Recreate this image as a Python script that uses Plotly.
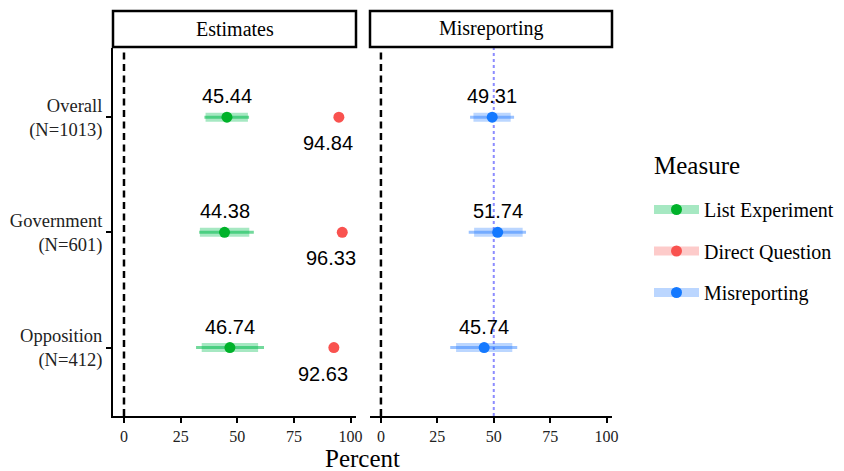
import plotly.graph_objects as go

# ---------------- data ----------------
categories = ["Overall<br>(N=1013)", "Government<br>(N=601)", "Opposition<br>(N=412)"]

list_est = [45.44, 44.38, 46.74]
list_lo90 = [36.0, 33.5, 34.3]
list_hi90 = [54.7, 55.3, 59.2]
list_lo95 = [35.5, 33.2, 31.8]
list_hi95 = [55.2, 57.3, 61.8]

direct_est = [94.84, 96.33, 92.63]

mis_est = [49.31, 51.74, 45.74]
mis_lo90 = [41.0, 41.3, 33.3]
mis_hi90 = [57.5, 62.8, 58.2]
mis_lo95 = [39.5, 38.9, 30.7]
mis_hi95 = [59.0, 64.3, 60.4]

x_ticks = [0, 25, 50, 75, 100]
measures = ["List Experiment", "Direct Question", "Misreporting"]
panels = ["Estimates", "Misreporting"]

# ---------------- style ----------------
GREEN = "#00B22A"
RED = "#F9524F"
BLUE = "#1479FF"
band_col = {"List Experiment": "rgba(0,190,80,0.35)", "Direct Question": "rgba(249,82,79,0.30)",
            "Misreporting": "rgba(30,120,255,0.30)"}
thin_col = {"List Experiment": "rgba(0,185,75,0.55)", "Direct Question": "rgba(249,82,79,0.5)",
            "Misreporting": "rgba(30,120,255,0.45)"}
pt_col = {"List Experiment": GREEN, "Direct Question": RED, "Misreporting": BLUE}
SERIF = "Liberation Serif"
SANS = "Liberation Sans"

fig = go.Figure()


def segs(lo, hi):
    xs, ys = [], []
    for c, a, b in zip(categories, lo, hi):
        xs += [a, b, None]
        ys += [c, c, None]
    return xs, ys


def add_ci(lo95, hi95, lo90, hi90, est, name, xa, ya):
    x, y = segs(lo95, hi95)
    fig.add_trace(go.Scatter(x=x, y=y, mode="lines", line=dict(color=thin_col[name], width=3),
                             showlegend=False, hoverinfo="skip", xaxis=xa, yaxis=ya))
    x, y = segs(lo90, hi90)
    fig.add_trace(go.Scatter(x=x, y=y, mode="lines", line=dict(color=band_col[name], width=9),
                             showlegend=False, hoverinfo="skip", xaxis=xa, yaxis=ya))
    fig.add_trace(go.Scatter(x=est, y=categories, mode="markers",
                             marker=dict(color=pt_col[name], size=11),
                             showlegend=False, xaxis=xa, yaxis=ya))


add_ci(list_lo95, list_hi95, list_lo90, list_hi90, list_est, "List Experiment", "x", "y")
fig.add_trace(go.Scatter(x=direct_est, y=categories, mode="markers",
                         marker=dict(color=RED, size=11), showlegend=False, xaxis="x", yaxis="y"))
add_ci(mis_lo95, mis_hi95, mis_lo90, mis_hi90, mis_est, "Misreporting", "x2", "y2")

# legend-only entries
for i, m in enumerate(measures):
    fig.add_trace(go.Scatter(x=[None], y=[None], mode="lines+markers", name=m,
                             line=dict(color=band_col[m], width=9),
                             marker=dict(color=pt_col[m], size=11),
                             legendgroup=m, xaxis="x", yaxis="y"))

# value labels
annots = []
for c, v in zip(categories, list_est):
    annots.append(dict(x=v, y=c, xref="x", yref="y", text=f"{v:.2f}", showarrow=False,
                       xanchor="center", yanchor="middle",
                       yshift=21, font=dict(family=SANS, size=20, color="black")))
for c, v in zip(categories, direct_est):
    annots.append(dict(x=v, y=c, xref="x", yref="y", text=f"{v:.2f}", showarrow=False,
                       xanchor="center", yanchor="middle",
                       yshift=-26, xshift=-11, font=dict(family=SANS, size=20, color="black")))
for c, v in zip(categories, mis_est):
    annots.append(dict(x=v, y=c, xref="x2", yref="y2", text=f"{v:.2f}", showarrow=False,
                       xanchor="center", yanchor="middle",
                       yshift=21, font=dict(family=SANS, size=20, color="black")))

# strips
dom1 = [113 / 844, 356 / 844]
dom2 = [370 / 844, 612 / 844]
ydom = [1 - 416 / 471, 1 - 48 / 471]
strip_y = [1 - 47 / 471, 1 - 11 / 471]
shapes = []
for d, p in zip([dom1, dom2], panels):
    shapes.append(dict(type="rect", xref="paper", yref="paper", x0=d[0], x1=d[1],
                       y0=strip_y[0], y1=strip_y[1], line=dict(color="black", width=2.5),
                       fillcolor="white"))
    annots.append(dict(x=(d[0] + d[1]) / 2, y=(strip_y[0] + strip_y[1]) / 2, xref="paper",
                       yref="paper", text=p, showarrow=False, xanchor="center", yanchor="middle",
                       font=dict(family=SERIF, size=20, color="black")))

# reference lines
for xa, ya in [("x", "y"), ("x2", "y2")]:
    shapes.append(dict(type="line", xref=xa, yref=f"{ya} domain", x0=0, x1=0, y0=0, y1=1,
                       line=dict(color="black", width=2.5, dash="7px,4.5px"), layer="below"))
shapes.append(dict(type="line", xref="x2", yref="y2 domain", x0=50, x1=50, y0=0, y1=1,
                   line=dict(color="#8C8CFF", width=2, dash="dot"), layer="below"))

# x title
annots.append(dict(x=(dom1[0] + dom2[1]) / 2, y=1 - 458 / 471, xref="paper", yref="paper",
                   text="Percent", showarrow=False, xanchor="center", yanchor="middle",
                   borderpad=0, font=dict(family=SERIF, size=25, color="black")))
# legend title
annots.append(dict(x=652 / 844, y=1 - 166 / 471, xref="paper", yref="paper",
                   text="Measure", showarrow=False, xanchor="left", yanchor="middle",
                   font=dict(family=SERIF, size=25, color="black")))

xcommon = dict(range=[-4.85, 102.4], tickvals=x_ticks, ticktext=[str(t) for t in x_ticks],
               showgrid=False, zeroline=False, showline=True, linecolor="black", linewidth=2,
               ticks="outside", ticklen=5, tickwidth=1.5, tickcolor="black", automargin=False,
               tickfont=dict(family=SERIF, size=16, color="#222"))
fig.update_layout(
    width=844, height=471,
    margin=dict(l=0, r=0, t=0, b=0),
    plot_bgcolor="white", paper_bgcolor="white",
    xaxis=dict(domain=dom1, anchor="y", **xcommon),
    xaxis2=dict(domain=dom2, anchor="y2", **xcommon),
    yaxis=dict(domain=ydom, anchor="x", type="category", categoryorder="array",
               categoryarray=categories[::-1], range=[-0.594, 2.6], showgrid=False,
               zeroline=False, showline=True, linecolor="black", linewidth=2,
               ticks="outside", ticklen=5, tickwidth=1.5, tickcolor="black", automargin=False,
               tickfont=dict(family=SERIF, size=18.5, color="#222")),
    yaxis2=dict(domain=ydom, anchor="x2", matches="y", type="category", categoryorder="array",
                categoryarray=categories[::-1], showgrid=False, zeroline=False,
                showline=False, showticklabels=False, ticks="", automargin=False),
    shapes=shapes,
    annotations=annots,
    showlegend=True,
    legend=dict(x=649 / 844, y=1 - 190 / 471, xanchor="left", yanchor="top",
                font=dict(family=SERIF, size=20, color="black"), tracegroupgap=12.5,
                itemwidth=45, bgcolor="rgba(0,0,0,0)"),
)

fig.write_html("out.html", config={"displayModeBar": False},
               post_script="document.body.style.margin='0';document.body.style.padding='0';"
                           "document.body.style.overflow='hidden';")
